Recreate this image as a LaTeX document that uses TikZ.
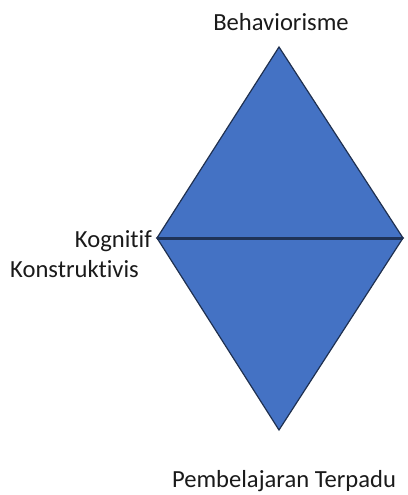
\documentclass[tikz,border=0pt]{standalone}
\usepackage{fontspec}
\setmainfont{Carlito}[Ligatures={NoCommon}]
\definecolor{shapefill}{HTML}{4472C4}
\definecolor{shapeedge}{HTML}{1F3050}
\definecolor{midline}{HTML}{1F3358}
\definecolor{labeltext}{HTML}{1A1A1A}
\begin{document}
\begin{tikzpicture}[x=1pt,y=-1pt,
  lbl/.style={font=\fontsize{24.6}{28}\selectfont, text=labeltext, inner sep=0pt},
  tri/.style={fill=shapefill, draw=shapeedge, line width=1.2pt, line join=miter}]
\useasboundingbox (0,0) rectangle (407,495);
\coordinate (top) at (279,47);
\coordinate (left) at (157,238);
\coordinate (right) at (403,238);
\coordinate (bot) at (279,430);
\filldraw[tri] (left) -- (top) -- (right) -- cycle;
\filldraw[tri] (left) -- (bot) -- (right) -- cycle;
\draw[midline, line width=3pt] (left) -- (right);
\node[lbl, anchor=base] (beh) at (281,30.5) {Behaviorisme};
\node[lbl, anchor=base east] (kog) at (152,247) {Kognitif};
\node[lbl, anchor=base west] (kon) at (10,277) {Konstruktivis};
\node[lbl, anchor=base] (pem) at (284,487) {Pembelajaran Terpadu};
\end{tikzpicture}
\end{document}
